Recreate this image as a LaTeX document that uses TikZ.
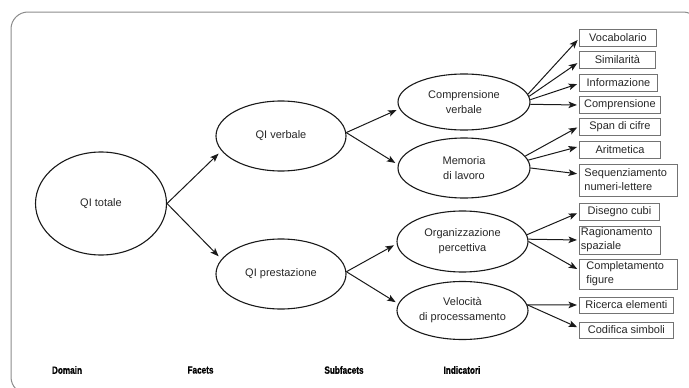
\documentclass[tikz,border=0pt]{standalone}
\usepackage{fontspec}
\setmainfont{Liberation Sans}
\newfontfamily\headfont[FakeStretch=0.78,FakeBold=0.6]{Liberation Sans Bold}
\usetikzlibrary{arrows.meta,shapes.geometric}

\tikzset{
  latent/.style={ellipse, draw=black!90, line width=1.1pt, inner sep=0pt,
    align=center, text=black!85, font=\fontsize{11}{15}\selectfont},
  indic/.style={rectangle, draw=black!55, line width=0.9pt, anchor=west,
    inner sep=0pt, align=center, text=black!85, font=\fontsize{11}{14}\selectfont},
  indictwo/.style={indic, align=left},
  link/.style={draw=black!90, line width=1pt,
    -{Stealth[length=8.5pt,width=6.5pt,inset=2pt]}, shorten >=3pt},
  levelname/.style={font=\headfont\fontsize{10.5}{12}\selectfont, text=black}
}

\begin{document}
\begin{tikzpicture}[x=1pt,y=-1pt]
\useasboundingbox (0,0) rectangle (689,388);

% outer frame, running past the page edges on the right and bottom
\begin{scope}
  \clip (0,0) rectangle (689,388);
  \draw[black!45, line width=1pt, rounded corners=17pt] (11,12) rectangle (700,394);
\end{scope}

% domain
\node[latent, minimum width=131pt, minimum height=103pt] (qt) at (101,203.5) {QI totale};

% facets
\node[latent, minimum width=130pt, minimum height=70pt] (qv) at (281,136) {QI verbale};
\node[latent, minimum width=130pt, minimum height=70pt] (qp) at (281,274) {QI prestazione};

% subfacets
\node[latent, minimum width=132pt, minimum height=56pt] (cv)  at (464,102)   {Comprensione\\verbale};
\node[latent, minimum width=132pt, minimum height=60pt] (mem) at (464,168)   {Memoria\\di lavoro};
\node[latent, minimum width=131pt, minimum height=61pt] (org) at (462.5,241.5) {Organizzazione\\percettiva};
\node[latent, minimum width=131pt, minimum height=58pt] (vel) at (462.5,310.5) {Velocità\\di processamento};

% indicators
\node[indic, minimum width=77pt, minimum height=17pt] (voc)  at (579,37.5)  {Vocabolario};
\node[indic, minimum width=76pt, minimum height=17pt] (sim)  at (579,60)    {Similarità};
\node[indic, minimum width=78pt, minimum height=17pt] (inf)  at (579,82.5)  {Informazione};
\node[indic, minimum width=81pt, minimum height=17pt] (comp) at (579,105)   {Comprensione};
\node[indic, minimum width=81pt, minimum height=17pt] (span) at (579,126.5) {Span di cifre};
\node[indic, minimum width=81pt, minimum height=17pt] (arit) at (579,149.5) {Aritmetica};
\node[indictwo, text width=88pt, inner xsep=5pt, minimum height=32pt] (seq) at (579,180)
  {Sequenziamento\\numeri-lettere};
\node[indic, minimum width=80pt, minimum height=17pt] (dis)  at (579,211.5) {Disegno cubi};
\node[indictwo, text width=78pt, inner xsep=1.5pt, minimum height=28pt] (rag) at (579,240)
  {Ragionamento\\spaziale};
\node[indictwo, text width=84pt, inner xsep=7pt, minimum height=30pt] (compl) at (579,274)
  {Completamento\\figure};
\node[indic, minimum width=94pt, minimum height=16pt] (ric)  at (579,305)   {Ricerca elementi};
\node[indic, minimum width=94pt, minimum height=16pt] (cod)  at (579,330)   {Codifica simboli};

% domain -> facets
\draw[link, shorten >=4pt] (qt.east) -- (qv.194);
\draw[link, shorten >=4pt] (qt.east) -- (qp.166);

% facets -> subfacets
\draw[link] (qv.3) -- (cv.186);
\draw[link] (qv.3) -- (mem.177);
\draw[link] (qp.2) -- (org.182);
\draw[link] (qp.2) -- (vel.174);

% subfacets -> indicators
\draw[link, shorten >=2pt] (cv.7)   -- ([yshift=-1pt]voc.west);
\draw[link, shorten >=2pt] (cv.5)   -- ([yshift=-2pt]sim.west);
\draw[link, shorten >=2pt] (cv.2)   -- ([yshift=-1pt]inf.west);
\draw[link, shorten >=2pt] (cv.-2)  -- (comp.west);
\draw[link, shorten >=2pt] (mem.11) -- (span.west);
\draw[link, shorten >=2pt] (mem.7)  -- ([yshift=3pt]arit.west);
\draw[link, shorten >=2pt] (mem.0)  -- ([yshift=6pt]seq.west);
\draw[link, shorten >=2pt] (org.6)  -- ([yshift=-1pt]dis.west);
\draw[link, shorten >=2pt] (org.2)  -- (rag.west);
\draw[link, shorten >=2pt] (org.0)  -- ([yshift=4pt]compl.west);
\draw[link, shorten >=2pt] (vel.5)  -- (ric.west);
\draw[link, shorten >=2pt] (vel.5)  -- ([yshift=2pt]cod.west);

% level names
\node[levelname] (lvdomain) at (67,370)    {Domain};
\node[levelname] (lvfacet)  at (200.5,370) {Facets};
\node[levelname] (lvsub)    at (344,370)   {Subfacets};
\node[levelname] (lvind)    at (462,370)   {Indicatori};
\end{tikzpicture}
\end{document}
